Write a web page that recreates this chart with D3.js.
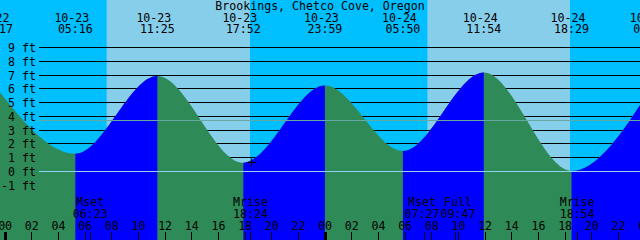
<!DOCTYPE html>
<html>
<head>
<meta charset="utf-8">
<script src="https://cdn.jsdelivr.net/npm/d3@7"></script>
<style>
  html, body { margin: 0; padding: 0; background: #fff; }
  svg { display: block; }
  text { font-family: "DejaVu Sans Mono", "Liberation Mono", monospace; font-size: 11.6px; fill: #000; }
</style>
</head>
<body>
<div id="chart"></div>
<script>
var title = 'Brookings, Chetco Cove, Oregon';

// high / low tides, local time and feet
var tideTimes = ['10-22 23:17', '10-23 05:16', '10-23 11:25', '10-23 17:52', '10-23 23:59',
                 '10-24 05:50', '10-24 11:54', '10-24 18:29', '10-25 00:25'];
var tideHeights = [6.1, 1.25, 6.9, 0.6, 6.2, 1.45, 7.15, 0.0, 6.0];

var sunRise = ['10-23 07:38', '10-24 07:42'];
var sunSet = ['10-23 18:22', '10-24 18:22'];

var moonNames = ['Mset', 'Mrise', 'Mset', 'Full', 'Mrise'];
var moonTimes = ['10-23 06:23', '10-23 18:24', '10-24 07:27', '10-24 09:47', '10-24 18:54'];

var feetTicks = [9, 8, 7, 6, 5, 4, 3, 2, 1, 0, -1];
var meanLevel = 3.7;
var nowTime = '10-23 18:30';
var nowHeight = 0.65;

var viewStart = '10-22 23:37';
var viewEnd = '10-24 23:37';

var W = 640, H = 240;
var nightColor = '#00bfff', dayColor = '#87ceeb';
var floodColor = '#0000ff', ebbColor = '#2e8b57';

var parse = d3.utcParse('%m-%d %H:%M');
var fmtDate = d3.utcFormat('%m-%d');
var fmtTime = d3.utcFormat('%H:%M');
var fmtHour = d3.utcFormat('%H');

var x = d3.scaleUtc()
    .domain([parse(viewStart), parse(viewEnd)])
    .range([0, W]);
var y = d3.scaleLinear()
    .domain([0, 9])
    .range([171, 47]);
var crisp = function(v) { return Math.round(v) + 0.5; };

var svg = d3.select('#chart')
    .append('svg')
    .attr('width', W)
    .attr('height', H);

// day / night sky
var edges = [x.domain()[0]]
    .concat(sunRise.concat(sunSet).map(parse).sort(d3.ascending))
    .concat([x.domain()[1]]);
svg.append('g')
    .selectAll('rect')
    .data(d3.pairs(edges))
    .enter()
    .append('rect')
    .attr('x', function(d) { return x(d[0]); })
    .attr('y', 0)
    .attr('width', function(d) { return x(d[1]) - x(d[0]); })
    .attr('height', H)
    .attr('fill', function(d, i) { return i % 2 === 0 ? nightColor : dayColor; });

// foot lines, hidden under the water
svg.append('g')
    .selectAll('line')
    .data(feetTicks.filter(function(d) { return d !== 0; }))
    .enter()
    .append('line')
    .attr('x1', 39)
    .attr('x2', W)
    .attr('y1', function(d) { return crisp(y(d)); })
    .attr('y2', function(d) { return crisp(y(d)); })
    .attr('stroke', '#000');

// water
var tides = tideTimes.map(function(t, i) {
    return {t: parse(t), h: tideHeights[i]};
});
var area = d3.area()
    .x(function(d) { return x(d.t); })
    .y0(H)
    .y1(function(d) { return y(d.h); })
    .curve(d3.curveMonotoneX);

var rising = d3.pairs(tides).filter(function(p) { return p[1].h > p[0].h; });
svg.append('clipPath')
    .attr('id', 'flood')
    .selectAll('rect')
    .data(rising)
    .enter()
    .append('rect')
    .attr('x', function(p) { return x(p[0].t); })
    .attr('y', 0)
    .attr('width', function(p) { return x(p[1].t) - x(p[0].t); })
    .attr('height', H);

svg.append('path')
    .datum(tides)
    .attr('d', area)
    .attr('fill', ebbColor);
svg.append('path')
    .datum(tides)
    .attr('d', area)
    .attr('fill', floodColor)
    .attr('clip-path', 'url(#flood)');

// datum and mean level
svg.append('line')
    .attr('x1', 39).attr('x2', W)
    .attr('y1', crisp(y(0))).attr('y2', crisp(y(0)))
    .attr('stroke', '#90d2f0');
svg.append('line')
    .attr('x1', 39).attr('x2', W)
    .attr('y1', crisp(y(meanLevel))).attr('y2', crisp(y(meanLevel)))
    .attr('stroke', '#66a8a2');

// foot labels
svg.append('g')
    .selectAll('text')
    .data(feetTicks)
    .enter()
    .append('text')
    .attr('x', 36)
    .attr('y', function(d) { return Math.round(y(d)) + 4.5; })
    .attr('text-anchor', 'end')
    .text(function(d) { return d + ' ft'; });

// title and tide times
svg.append('text')
    .attr('x', W / 2)
    .attr('y', 9.5)
    .attr('text-anchor', 'middle')
    .text(title);

var tl = svg.append('g')
    .selectAll('g')
    .data(tides)
    .enter()
    .append('g')
    .attr('transform', function(d) { return 'translate(' + x(d.t) + ',0)'; })
    .attr('text-anchor', 'middle');
tl.append('text')
    .attr('x', -3.5)
    .attr('y', 21.5)
    .text(function(d) { return fmtDate(d.t); });
tl.append('text')
    .attr('y', 33)
    .text(function(d) { return fmtTime(d.t); });

// hour ticks along the bottom
var hours = d3.utcHour.every(2).range(x.domain()[0], d3.utcHour.offset(x.domain()[1], 2));
svg.append('g')
    .selectAll('text')
    .data(hours)
    .enter()
    .append('text')
    .attr('x', function(d) { return x(d); })
    .attr('y', 230)
    .attr('text-anchor', 'middle')
    .text(fmtHour);
svg.append('g')
    .selectAll('rect')
    .data(hours)
    .enter()
    .append('rect')
    .attr('x', function(d) { return d.getUTCHours() === 0 ? Math.floor(x(d)) - 1 : Math.floor(x(d)); })
    .attr('y', 232)
    .attr('width', function(d) { return d.getUTCHours() === 0 ? 3 : 1; })
    .attr('height', 8)
    .attr('fill', '#000');

// moon events
var moon = moonTimes.map(function(t, i) {
    var d = parse(t);
    return {name: moonNames[i], t: d, cx: x(d)};
});
var labelW = 36;
for(var i = 1; i < moon.length; i++) {
    var gap = moon[i].cx - moon[i - 1].cx;
    if(gap < labelW) {
        moon[i - 1].cx -= (labelW - gap) / 2;
        moon[i].cx += (labelW - gap) / 2;
    }
}
var ml = svg.append('g')
    .selectAll('g')
    .data(moon)
    .enter()
    .append('g')
    .attr('text-anchor', 'middle');
ml.append('text')
    .attr('x', function(d) { return d.cx; })
    .attr('y', 205.5)
    .text(function(d) { return d.name; });
ml.append('text')
    .attr('x', function(d) { return d.cx; })
    .attr('y', 217.5)
    .text(function(d) { return fmtTime(d.t); });
ml.append('rect')
    .attr('x', function(d) { return Math.floor(x(d.t)); })
    .attr('y', 232)
    .attr('width', 1)
    .attr('height', 8)
    .attr('fill', '#000');

// current time mark
var nx = Math.floor(x(parse(nowTime))) + 0.5;
var ny = Math.round(y(nowHeight)) + 0.5;
svg.append('path')
    .attr('d', 'M' + (nx - 4) + ',' + ny + 'H' + (nx + 5) + 'M' + nx + ',' + (ny - 4) + 'V' + (ny + 4))
    .attr('stroke', '#000')
    .attr('fill', 'none');
</script>
</body>
</html>
